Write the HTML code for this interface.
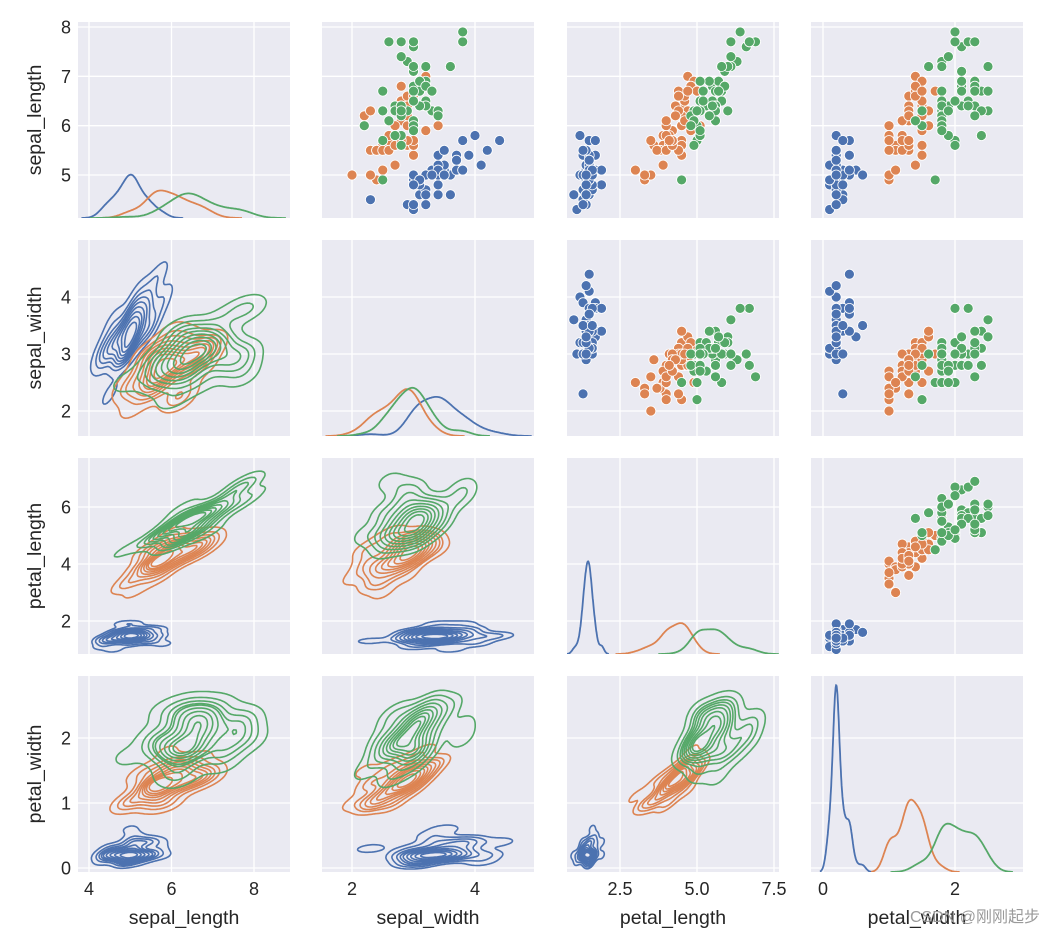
<!DOCTYPE html>
<html><head><meta charset="utf-8">
<style>
html,body{margin:0;padding:0;background:#fff;}
svg{display:block;font-family:"Liberation Sans","Noto Sans CJK SC",sans-serif;}
</style></head>
<body>
<svg id="chart" width="1055" height="935" viewBox="0 0 1055 935" xmlns="http://www.w3.org/2000/svg"></svg>
<script>
const variables = ["sepal_length","sepal_width","petal_length","petal_width"];
const speciesNames = ["setosa","versicolor","virginica"];
const sepalLength = [5.1,4.9,4.7,4.6,5.0,5.4,4.6,5.0,4.4,4.9,5.4,4.8,4.8,4.3,5.8,5.7,5.4,5.1,5.7,5.1,5.4,5.1,4.6,5.1,4.8,5.0,5.0,5.2,5.2,4.7,4.8,5.4,5.2,5.5,4.9,5.0,5.5,4.9,4.4,5.1,5.0,4.5,4.4,5.0,5.1,4.8,5.1,4.6,5.3,5.0,
7.0,6.4,6.9,5.5,6.5,5.7,6.3,4.9,6.6,5.2,5.0,5.9,6.0,6.1,5.6,6.7,5.6,5.8,6.2,5.6,5.9,6.1,6.3,6.1,6.4,6.6,6.8,6.7,6.0,5.7,5.5,5.5,5.8,6.0,5.4,6.0,6.7,6.3,5.6,5.5,5.5,6.1,5.8,5.0,5.6,5.7,5.7,6.2,5.1,5.7,
6.3,5.8,7.1,6.3,6.5,7.6,4.9,7.3,6.7,7.2,6.5,6.4,6.8,5.7,5.8,6.4,6.5,7.7,7.7,6.0,6.9,5.6,7.7,6.3,6.7,7.2,6.2,6.1,6.4,7.2,7.4,7.9,6.4,6.3,6.1,7.7,6.3,6.4,6.0,6.9,6.7,6.9,5.8,6.8,6.7,6.7,6.3,6.5,6.2,5.9];
const sepalWidth = [3.5,3.0,3.2,3.1,3.6,3.9,3.4,3.4,2.9,3.1,3.7,3.4,3.0,3.0,4.0,4.4,3.9,3.5,3.8,3.8,3.4,3.7,3.6,3.3,3.4,3.0,3.4,3.5,3.4,3.2,3.1,3.4,4.1,4.2,3.1,3.2,3.5,3.1,3.0,3.4,3.5,2.3,3.2,3.5,3.8,3.0,3.8,3.2,3.7,3.3,
3.2,3.2,3.1,2.3,2.8,2.8,3.3,2.4,2.9,2.7,2.0,3.0,2.2,2.9,2.9,3.1,3.0,2.7,2.2,2.5,3.2,2.8,2.5,2.8,2.9,3.0,2.8,3.0,2.9,2.6,2.4,2.4,2.7,2.7,3.0,3.4,3.1,2.3,3.0,2.5,2.6,3.0,2.6,2.3,2.7,3.0,2.9,2.9,2.5,2.8,
3.3,2.7,3.0,2.9,3.0,3.0,2.5,2.9,2.5,3.6,3.2,2.7,3.0,2.5,2.8,3.2,3.0,3.8,2.6,2.2,3.2,2.8,2.8,2.7,3.3,3.2,2.8,3.0,2.8,3.0,2.8,3.8,2.8,2.8,2.6,3.0,3.4,3.1,3.0,3.1,3.1,3.1,2.7,3.2,3.3,3.0,2.5,3.0,3.4,3.0];
const petalLength = [1.4,1.4,1.3,1.5,1.4,1.7,1.4,1.5,1.4,1.5,1.5,1.6,1.4,1.1,1.2,1.5,1.3,1.4,1.7,1.5,1.7,1.5,1.0,1.7,1.9,1.6,1.6,1.5,1.4,1.6,1.6,1.5,1.5,1.4,1.5,1.2,1.3,1.5,1.3,1.5,1.3,1.3,1.3,1.6,1.9,1.4,1.6,1.4,1.5,1.4,
4.7,4.5,4.9,4.0,4.6,4.5,4.7,3.3,4.6,3.9,3.5,4.2,4.0,4.7,3.6,4.4,4.5,4.1,4.5,3.9,4.8,4.0,4.9,4.7,4.3,4.4,4.8,5.0,4.5,3.5,3.8,3.7,3.9,5.1,4.5,4.5,4.7,4.4,4.1,4.0,4.4,4.6,4.0,3.3,4.2,4.2,4.2,4.3,3.0,4.1,
6.0,5.1,5.9,5.6,5.8,6.6,4.5,6.3,5.8,6.1,5.1,5.3,5.5,5.0,5.1,5.3,5.5,6.7,6.9,5.0,5.7,4.9,6.7,4.9,5.7,6.0,4.8,4.9,5.6,5.8,6.1,6.4,5.6,5.1,5.6,6.1,5.6,5.5,4.8,5.4,5.6,5.1,5.1,5.9,5.7,5.2,5.0,5.2,5.4,5.1];
const petalWidth = [0.2,0.2,0.2,0.2,0.2,0.4,0.3,0.2,0.2,0.1,0.2,0.2,0.1,0.1,0.2,0.4,0.4,0.3,0.3,0.3,0.2,0.4,0.2,0.5,0.2,0.2,0.4,0.2,0.2,0.2,0.2,0.4,0.1,0.2,0.1,0.2,0.2,0.1,0.2,0.2,0.3,0.3,0.2,0.6,0.4,0.3,0.2,0.2,0.2,0.2,
1.4,1.5,1.5,1.3,1.5,1.3,1.6,1.0,1.3,1.4,1.0,1.5,1.0,1.4,1.3,1.4,1.5,1.0,1.5,1.1,1.8,1.3,1.5,1.2,1.3,1.4,1.4,1.7,1.5,1.0,1.1,1.0,1.2,1.6,1.5,1.6,1.5,1.3,1.3,1.3,1.2,1.4,1.2,1.0,1.3,1.2,1.3,1.3,1.1,1.3,
2.5,1.9,2.1,1.8,2.2,2.1,1.7,1.8,1.8,2.5,2.0,1.9,2.1,2.0,2.4,2.3,1.8,2.2,2.3,1.5,2.3,2.0,2.0,1.8,2.1,1.8,1.8,1.8,2.1,1.6,1.9,2.0,2.2,1.5,1.4,2.3,2.4,1.8,1.8,2.1,2.4,2.3,1.9,2.3,2.5,2.3,1.9,2.0,2.3,1.8];
const xTicks = [[4,6,8],[2,4],[2.5,5.0,7.5],[0,2]];
const xTickLabels = [["4","6","8"],["2","4"],["2.5","5.0","7.5"],["0","2"]];
const yTicks = [[5,6,7,8],[2,3,4],[2,4,6],[0,1,2]];
const yTickLabels = [["5","6","7","8"],["2","3","4"],["2","4","6"],["0","1","2"]];

const NS="http://www.w3.org/2000/svg";
const svg=document.getElementById('chart');
const colors=["#4c72b0","#dd8452","#55a868"];
const columns=[sepalLength,sepalWidth,petalLength,petalWidth];
const colLeft=[78,322,567,811], rowTop=[22,240,458,676], PW=212, PH=196;
const xCal=[[4,89,8,254],[2,352,4,475],[2.5,620,7.5,774],[0,823,2,955]];
const yCal=[[5,175,8,27],[2,411,4,297],[2,621,6,507],[0,868,2,738]];
function sx(c,v){const k=xCal[c];return k[1]+(v-k[0])*(k[3]-k[1])/(k[2]-k[0]);}
function sy(r,v){const k=yCal[r];return k[1]+(v-k[0])*(k[3]-k[1])/(k[2]-k[0]);}
function el(tag,attrs,parent){const e=document.createElementNS(NS,tag);for(const a in attrs)e.setAttribute(a,attrs[a]);(parent||svg).appendChild(e);return e;}
function sub(arr,s){return arr.slice(s*50,s*50+50);}
function mean(a){return a.reduce((p,q)=>p+q,0)/a.length;}
function variance(a){const m=mean(a);return a.reduce((p,q)=>p+(q-m)*(q-m),0)/(a.length-1);}
function cov(a,b){const ma=mean(a),mb=mean(b);let s=0;for(let i=0;i<a.length;i++)s+=(a[i]-ma)*(b[i]-mb);return s/(a.length-1);}

const defs=el('defs',{});
const panels=[];
for(let r=0;r<4;r++)for(let c=0;c<4;c++){
  const g=el('g',{});
  
  
  const cp=el('clipPath',{id:'clip'+r+c},defs);
  el('rect',{x:colLeft[c],y:rowTop[r],width:PW,height:PH},cp);
  const bg=el('rect',{x:colLeft[c],y:rowTop[r],width:PW,height:PH,fill:'#eaeaf2'},g);
  
  
  xTicks[c].forEach(t=>{const x=sx(c,t);const l=el('line',{x1:x,x2:x,y1:rowTop[r],y2:rowTop[r]+PH,stroke:'#fff','stroke-width':1.3},g);
    });
  yTicks[r].forEach(t=>{const y=sy(r,t);const l=el('line',{x1:colLeft[c],x2:colLeft[c]+PW,y1:y,y2:y,stroke:'#fff','stroke-width':1.3},g);
    });
  const inner=el('g',{'clip-path':'url(#clip'+r+c+')'},g);
  panels.push({r,c,g:inner});
}
const diagCurves=[];let gmax=0;
for(let c=0;c<4;c++){
  for(let s=0;s<3;s++){
    const d=sub(columns[c],s);const bw=Math.sqrt(variance(d))*Math.pow(50,-0.2);
    const lo=Math.min(...d)-3*bw,hi=Math.max(...d)+3*bw;const pts=[];
    for(let i=0;i<=200;i++){const v=lo+(hi-lo)*i/200;let den=0;
      for(const q of d){const z=(v-q)/bw;den+=Math.exp(-0.5*z*z);}
      den=den/(50*bw*Math.sqrt(2*Math.PI))/3;pts.push([v,den]);if(den>gmax)gmax=den;}
    diagCurves.push({c,s,pts});
  }
}
const ylimTop=gmax*1.05;
diagCurves.forEach(o=>{
  const p=panels[o.c*4+o.c];const base=rowTop[o.c]+PH;
  const dstr=o.pts.map((q,i)=>(i?'L':'M')+sx(o.c,q[0]).toFixed(1)+','+(base-q[1]/ylimTop*PH).toFixed(1)).join('');
  const e=el('path',{d:dstr,fill:'none',stroke:colors[o.s],'stroke-width':1.8},p.g);
  
  
});
panels.forEach(p=>{
  if(p.r>=p.c)return;
  for(let i=0;i<150;i++){
    const s=Math.floor(i/50);
    const e=el('circle',{cx:sx(p.c,columns[p.c][i]),cy:sy(p.r,columns[p.r][i]),r:5,fill:colors[s],stroke:'#fff','stroke-width':0.8},p.g);
    
    
  }
});
panels.forEach(p=>{
  if(p.r<=p.c)return;
  for(let s=0;s<3;s++){
    const X=sub(columns[p.c],s),Y=sub(columns[p.r],s);
    const f=Math.pow(50,-1/6)**2;
    const a=variance(X)*f,d=variance(Y)*f,b=cov(X,Y)*f;const det=a*d-b*b;
    const ia=d/det,ib=-b/det,id=a/det;
    const bx=Math.sqrt(a),by=Math.sqrt(d);
    const x0=Math.min(...X)-3*bx,x1=Math.max(...X)+3*bx,y0=Math.min(...Y)-3*by,y1=Math.max(...Y)+3*by;
    const N=90;const G=[];const all=[];
    for(let j=0;j<=N;j++){G.push([]);const yv=y0+(y1-y0)*j/N;
      for(let i=0;i<=N;i++){const xv=x0+(x1-x0)*i/N;let den=0;
        for(let k=0;k<50;k++){const dx=xv-X[k],dy=yv-Y[k];den+=Math.exp(-0.5*(ia*dx*dx+2*ib*dx*dy+id*dy*dy));}
        G[j].push(den);all.push(den);}}
    const sorted=all.slice().sort((u,v)=>v-u);const tot=sorted.reduce((u,v)=>u+v,0);
    const cum=[];let acc=0;for(const v of sorted){acc+=v;cum.push(acc/tot);}
    const levels=[];
    for(let li=0;li<9;li++){const prop=0.05+li*(0.95/9);const target=1-prop;
      let idx=cum.findIndex(v=>v>=target);if(idx<0)idx=cum.length-1;levels.push(sorted[idx]);}
    const PX=i=>sx(p.c,x0+(x1-x0)*i/N),PY=j=>sy(p.r,y0+(y1-y0)*j/N);
    levels.forEach(L=>{
      let dstr='';
      for(let j=0;j<N;j++)for(let i=0;i<N;i++){
        const v=[G[j][i],G[j][i+1],G[j+1][i+1],G[j+1][i]];
        const cs=[[i,j],[i+1,j],[i+1,j+1],[i,j+1]];
        const pts=[];
        for(let e=0;e<4;e++){const A=e,B=(e+1)%4;
          if((v[A]>=L)!==(v[B]>=L)){const t=(L-v[A])/(v[B]-v[A]);
            const gx=cs[A][0]+(cs[B][0]-cs[A][0])*t,gy=cs[A][1]+(cs[B][1]-cs[A][1])*t;
            const px=PX(0)+(PX(1)-PX(0))*gx,py=PY(0)+(PY(1)-PY(0))*gy;pts.push([px,py]);}}
        if(pts.length>=2){dstr+='M'+pts[0][0].toFixed(1)+','+pts[0][1].toFixed(1)+'L'+pts[1][0].toFixed(1)+','+pts[1][1].toFixed(1);
          if(pts.length===4)dstr+='M'+pts[2][0].toFixed(1)+','+pts[2][1].toFixed(1)+'L'+pts[3][0].toFixed(1)+','+pts[3][1].toFixed(1);}
      }
      const e=el('path',{d:dstr,fill:'none',stroke:colors[s],'stroke-width':1.6,'stroke-linecap':'round'},p.g);
      
      
    });
  }
});
for(let r=0;r<4;r++){
  yTicks[r].forEach((t,i)=>{const e=el('text',{x:71,y:sy(r,t)+6.5,'text-anchor':'end','font-size':18,fill:'#262626'});e.textContent=yTickLabels[r][i];
    });
  const yl=el('text',{x:0,y:0,transform:'translate(41,'+(rowTop[r]+PH/2)+') rotate(-90)','text-anchor':'middle','font-size':19.5,fill:'#262626'});
  yl.textContent=variables[r];
  
}
for(let c=0;c<4;c++){
  xTicks[c].forEach((t,i)=>{const e=el('text',{x:sx(c,t),y:895,'text-anchor':'middle','font-size':18,fill:'#262626'});e.textContent=xTickLabels[c][i];
    });
  const xl=el('text',{x:colLeft[c]+PW/2,y:924,'text-anchor':'middle','font-size':19.5,fill:'#262626'});
  xl.textContent=variables[c];
  
}
const wm=el('text',{x:1040,y:922,'text-anchor':'end','font-size':16,fill:'#9a9a9a'});
wm.textContent='CSDN @刚刚起步';

</script>
</body></html>
